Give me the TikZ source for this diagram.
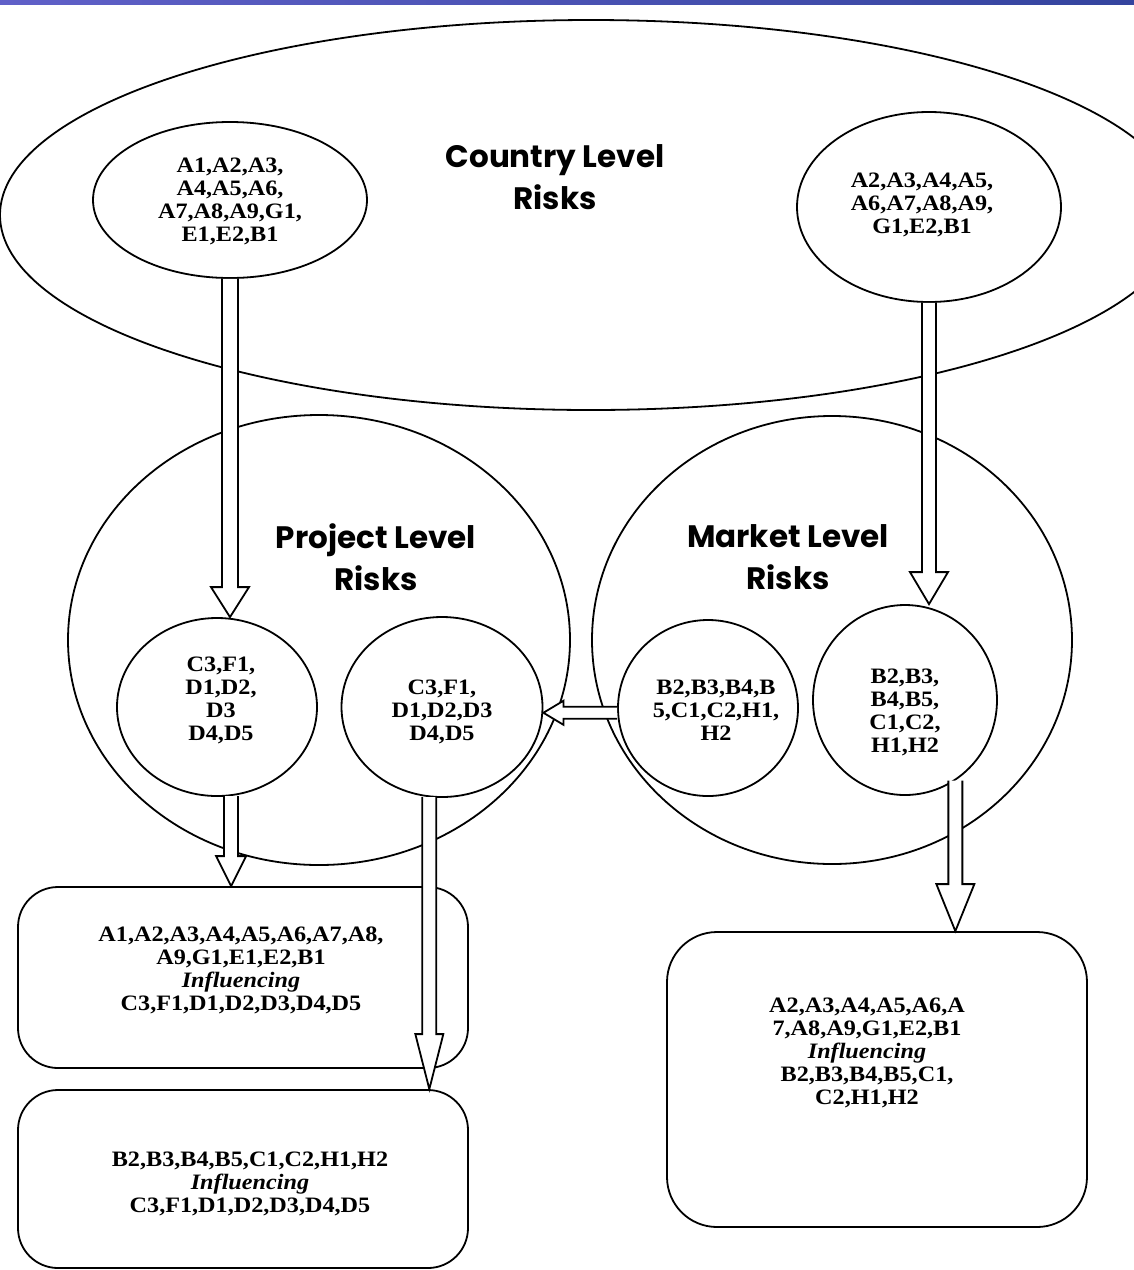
\documentclass[tikz,border=0pt]{standalone}
\usepackage{fontspec}
\setmainfont{Liberation Serif}[FakeStretch=1.1]
\newfontfamily\headfont{Poppins}
\usetikzlibrary{shapes.geometric,calc}

\definecolor{barleft}{RGB}{96,96,200}
\definecolor{barright}{RGB}{52,68,158}

\tikzset{
  outline/.style={draw=black, line width=1.8pt},
  oval/.style={ellipse, outline, inner sep=0pt},
  panel/.style={rectangle, rounded corners=40pt, outline, inner sep=0pt},
  ids/.style={font=\fontsize{22}{23}\selectfont\bfseries, align=center, inner sep=0pt},
  heading/.style={font=\headfont\fontsize{31}{42}\selectfont\bfseries, align=center, inner sep=0pt},
  arrowline/.style={draw=black, line width=1.8pt, line join=miter},
}

% hollow block arrow pointing down: #1 start, #2 tip, #3 half shaft, #4 half head, #5 head length
\newcommand\blkdown[5]{%
  \fill[white] ($(#1)+(-#3,0)$) -- ($(#2)+(-#3,-#5)$) -- ($(#2)+(-#4,-#5)$) -- (#2)
    -- ($(#2)+(#4,-#5)$) -- ($(#2)+(#3,-#5)$) -- ($(#1)+(#3,0)$) -- cycle;
  \draw[arrowline] ($(#1)+(-#3,0)$) -- ($(#2)+(-#3,-#5)$) -- ($(#2)+(-#4,-#5)$) -- (#2)
    -- ($(#2)+(#4,-#5)$) -- ($(#2)+(#3,-#5)$) -- ($(#1)+(#3,0)$);
}
% hollow block arrow pointing left
\newcommand\blkleft[5]{%
  \fill[white] ($(#1)+(0,-#3)$) -- ($(#2)+(#5,-#3)$) -- ($(#2)+(#5,-#4)$) -- (#2)
    -- ($(#2)+(#5,#4)$) -- ($(#2)+(#5,#3)$) -- ($(#1)+(0,#3)$) -- cycle;
  \draw[arrowline] ($(#1)+(0,-#3)$) -- ($(#2)+(#5,-#3)$) -- ($(#2)+(#5,-#4)$) -- (#2)
    -- ($(#2)+(#5,#4)$) -- ($(#2)+(#5,#3)$) -- ($(#1)+(0,#3)$);
}

\begin{document}
\begin{tikzpicture}[x=1pt,y=-1pt]
\useasboundingbox[fill=white] (0,0) rectangle (1134,1270);
\shade[left color=barleft, right color=barright] (0,0) rectangle (1134,4);

% level ovals
\node[oval, minimum width=1182pt, minimum height=390pt] (country) at (591,215) {};
\node[oval, minimum width=502pt, minimum height=450pt] (project) at (319,640) {};
\node[oval, minimum width=480pt, minimum height=448pt] (market) at (832,640) {};

\node[heading] (countryT) at (555,177) {Country Level\\Risks};
\node[heading] (projectT) at (376,557) {Project Level\\Risks};
\node[heading] (marketT) at (788,557) {Market Level\\Risks};

% risk groups
\node[oval, minimum width=274pt, minimum height=156pt] (tl) at (230,200) {};
\node[ids] at (230,201) {A1,A2,A3,\\A4,A5,A6,\\A7,A8,A9,G1,\\E1,E2,B1};

\node[oval, minimum width=264pt, minimum height=190pt] (tr) at (929,207) {};
\node[ids] at (922,205) {A2,A3,A4,A5,\\A6,A7,A8,A9,\\G1,E2,B1};

\node[oval, minimum width=200pt, minimum height=178pt] (lc) at (217,707) {};
\node[ids] at (221,700) {C3,F1,\\D1,D2,\\D3\\D4,D5};

\node[oval, minimum width=201pt, minimum height=180pt] (mc) at (442,707) {};
\node[ids] at (442,712) {C3,F1,\\D1,D2,D3\\D4,D5};

\node[oval, minimum width=180pt, minimum height=176pt] (mlc) at (708,708) {};
\node[ids] at (716,710) {B2,B3,B4,B\\5,C1,C2,H1,\\H2};

\node[oval, minimum width=184pt, minimum height=190pt] (mr) at (905,700) {};
\node[ids] at (905,712) {B2,B3,\\B4,B5,\\C1,C2,\\H1,H2};

% influence panels
\node[panel, minimum width=450pt, minimum height=181pt] (p1) at (243,977.5) {};
\node[ids] at (241,970) {A1,A2,A3,A4,A5,A6,A7,A8,\\A9,G1,E1,E2,B1\\\textit{Influencing}\\C3,F1,D1,D2,D3,D4,D5};

\node[panel, minimum width=450pt, minimum height=178pt] (p2) at (243,1179) {};
\node[ids] at (250,1184) {B2,B3,B4,B5,C1,C2,H1,H2\\\textit{Influencing}\\C3,F1,D1,D2,D3,D4,D5};

\node[panel, rounded corners=50pt, minimum width=420pt, minimum height=295pt] (p3) at (877,1079.5) {};
\node[ids] at (867,1053) {A2,A3,A4,A5,A6,A\\7,A8,A9,G1,E2,B1\\\textit{Influencing}\\B2,B3,B4,B5,C1,\\C2,H1,H2};

% connectors
\coordinate (a1s) at (tl.-90);
\coordinate (a1t) at (a1s |- lc.north);
\coordinate (a2s) at (tr.-90);
\coordinate (a2t) at (a2s |- mr.north);
\coordinate (a3s) at (lc.-81);
\coordinate (a3t) at (a3s |- p1.north);
\coordinate (a4s) at (mc.-98);
\coordinate (a4t) at (a4s |- p2.north);
\coordinate (a5s) at (mr.-58);
\coordinate (a5t) at (a5s |- p3.north);
\coordinate (a6s) at (mlc.183);
\coordinate (a6t) at (mc.east |- a6s);

\blkdown{a1s}{a1t}{8}{19}{30}
\blkdown{a2s}{a2t}{7}{19}{32}
\blkdown{a3s}{a3t}{7}{15}{30}
\blkdown{a4s}{a4t}{7}{14}{55}
\blkdown{a5s}{a5t}{7}{19}{47}
\blkleft{a6s}{a6t}{6}{12}{20}
\end{tikzpicture}
\end{document}
